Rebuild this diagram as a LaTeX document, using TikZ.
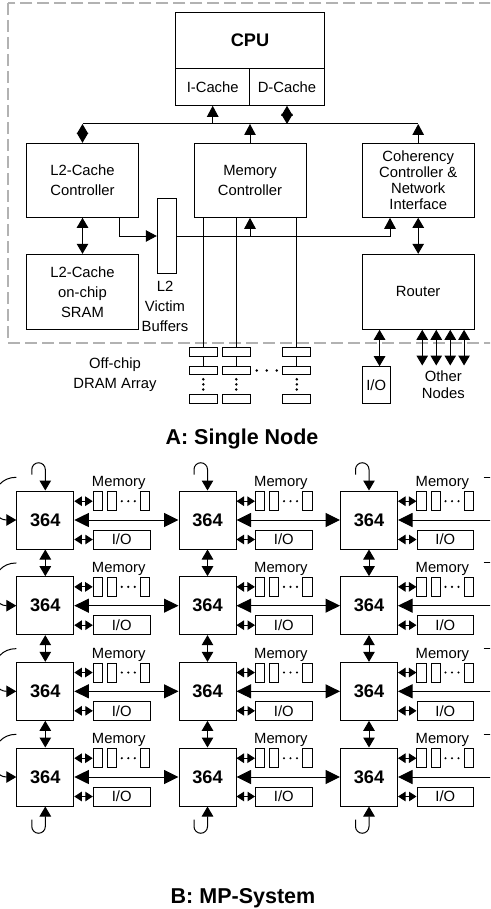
\documentclass[tikz,border=0pt]{standalone}
\usepackage{fontspec}
\setmainfont{Liberation Sans}
\usetikzlibrary{arrows.meta,calc}
\newcommand\myfs{\fontsize{14.8}{20}\selectfont}
\newcommand\myfsc{\fontsize{14.8}{16}\selectfont}
\newcommand\myfso{\fontsize{14.8}{16.7}\selectfont}
\newcommand\mybig{\fontsize{18.2}{22}\selectfont\bfseries}
\newcommand\mytitle{\fontsize{21.5}{24}\selectfont\bfseries}
\begin{document}
\begin{tikzpicture}[x=1pt,y=1pt,line width=1pt,
  box/.style={draw, inner sep=0pt, align=center, font=\myfs},
  dram/.style={draw, inner sep=0pt, minimum width=27.7pt, minimum height=8.7pt},
  pbox/.style={draw, inner sep=0pt, minimum width=57pt, minimum height=58pt, font=\mybig},
  mm/.style={draw, inner sep=0pt, minimum width=9.2pt, minimum height=19pt},
  iob/.style={draw, inner sep=0pt, minimum width=56.7pt, minimum height=19pt, font=\myfs},
  arr/.style={-{Triangle[length=11pt,width=11.5pt]}},
  darr/.style={{Triangle[length=10pt,width=11.5pt]}-{Triangle[length=10pt,width=11.5pt]}},
  sdarr/.style={{Triangle[length=7.5pt,width=9.5pt]}-{Triangle[length=7.5pt,width=9.5pt]}},
  bdarr/.style={{Triangle[length=14.5pt,width=14pt]}-{Triangle[length=14.5pt,width=14pt]}},
  barr/.style={-{Triangle[length=14.5pt,width=14pt]}},
  larr/.style={-{Triangle[length=10pt,width=11.5pt]}},
  dot/.style={fill, circle, inner sep=0pt, minimum size=2.8pt}
]
\useasboundingbox (0,0) rectangle (490,-909);
\clip (0,0) rectangle (490,-909);

% ---------- A: single node ----------
\draw[black!30, line width=1.6pt, dash pattern=on 12pt off 5pt] (8,-3) rectangle (505,-342.7);

\node[box, minimum width=148.6pt, minimum height=55.6pt, font=\mybig] (cpu) at (250,-40.5) {CPU};
\node[box, minimum width=74pt, minimum height=37pt] (icache) at (212.7,-86.8) {I-Cache};
\node[box, minimum width=74.6pt, minimum height=37pt] (dcache) at (287,-86.8) {D-Cache};

\node[box, minimum width=111.6pt, minimum height=74pt] (l2c) at (82.5,-180.3) {L2-Cache\\Controller};
\node[box, minimum width=112pt, minimum height=74pt] (mc) at (250,-180.3) {Memory\\Controller};
\node[box, minimum width=111.7pt, minimum height=74pt, font=\myfsc] (coh) at (418.2,-180.3) {Coherency\\Controller \&\\Network\\Interface};
\node[box, minimum width=111.6pt, minimum height=75pt] (sram) at (82.5,-291.8) {L2-Cache\\on-chip\\SRAM};
\node[box, minimum width=111.7pt, minimum height=75pt] (router) at (418.2,-291.8) {Router};
\node[box, minimum width=18.7pt, minimum height=74.6pt] (vb) at (166.65,-236) {};
\node[font=\myfs, align=center] (vbt) at (165,-306) {L2\\Victim\\Buffers};

\coordinate (busy) at (0,-124);
\draw (l2c.north |- busy) -- (coh.north |- busy);
\draw[arr] (icache.south |- busy) -- (icache.south);
\draw[darr] (dcache.south |- busy) -- (dcache.south);
\draw[darr] (l2c.north |- busy) -- (l2c.north);
\draw[arr] (mc.north) -- (mc.north |- busy);
\draw[arr] (coh.north) -- (coh.north |- busy);

\draw[darr] (l2c.south) -- (sram.north);
\draw[arr] ([xshift=36.8pt]l2c.south) |- (vb.west);
\draw[arr] (vb.east) -| ([xshift=-28.2pt]coh.south);
\draw[arr] (mc.south |- vb.east) -- (mc.south);
\draw[darr] (coh.south) -- (router.north);

\foreach \i/\x in {1/203.3,2/236.3,3/296.8} {
  \node[dram] (dra\i) at (\x,-352) {};
  \node[dram] (drb\i) at (\x,-370.5) {};
  \node[dram] (drc\i) at (\x,-398.8) {};
  \draw (mc.south -| dra\i.north) -- (dra\i.north);
  \draw (dra\i.south) -- (drb\i.north);
  \foreach \yy in {379.3,384.4,389.5} \node[dot] at (\x,-\yy) {};
}
\foreach \xx in {256.7,266.7,276.7} \node[dot] at (\xx,-370.5) {};
\node[font=\myfs, align=center] (offt) at (115,-375) {Off-chip\\DRAM Array};

\node[box, minimum width=27.7pt, minimum height=36.6pt] (io) at (376.2,-385) {I/O};
\draw[darr] ([xshift=17.7pt]router.south west) -- ([xshift=17.7pt]router.south west |- io.north);
\foreach \k/\dx in {1/60.4,2/74.4,3/88.4,4/102.2} {
  \coordinate (on\k) at ([xshift=\dx pt, yshift=-35.7pt]router.south west);
  \draw[darr] ([xshift=\dx pt]router.south west) -- (on\k);
}
\node[font=\myfso, align=center] (othert) at (443.3,-385) {Other\\Nodes};

\node[font=\mytitle, anchor=base] (ta) at (242,-444.5) {A: Single Node};

% ---------- B: MP-System ----------
\foreach \r/\cy in {1/520,2/605.67,3/691.33,4/777} {
  \foreach \c/\cx in {1/45.3,2/207.5,3/369} {
    \node[pbox] (n\r\c) at (\cx,-\cy) {364};
    \node[mm] (ma\r\c) at (\cx+52.5,-\cy+18.8) {};
    \node[mm] (mb\r\c) at (\cx+66.7,-\cy+18.8) {};
    \node[mm] (mc\r\c) at (\cx+100,-\cy+18.8) {};
    \foreach \dx in {76.5,83,89.5} \node[dot, minimum size=2.4pt] at (\cx+\dx,-\cy+18.8) {};
    \node[iob] (io\r\c) at (\cx+76.35,-\cy-19.5) {I/O};
    \node[font=\myfs, anchor=base] (ml\r\c) at (\cx+73.4,-\cy+33.3) {Memory};
    \draw[sdarr] (n\r\c.east |- ma\r\c.west) -- (ma\r\c.west);
    \draw[sdarr] (n\r\c.east |- io\r\c.west) -- (io\r\c.west);
  }
  \draw[bdarr] (n\r1.east) -- (n\r2.west);
  \draw[bdarr] (n\r2.east) -- (n\r3.west);
  \coordinate (re\r) at ($(n\r3.east)+(110,0)$);
  \draw[barr] (re\r) -- (n\r3.east);
  \draw[larr] ($(n\r1.west)+(0,42.7)$) .. controls ($(n\r1.west)+(-28.8,42.7)$) and ($(n\r1.west)+(-28.8,0)$) .. (n\r1.west);
  \coordinate (rt\r) at ($(n\r3.east)+(85.5,43)$);
  \draw (rt\r) -- ++(30,0);
}
\foreach \r/\s in {1/2,2/3,3/4}
  \foreach \c in {1,2,3}
    \draw[darr] (n\r\c.south) -- (n\s\c.north);
\foreach \c in {1,2,3} {
  \draw[larr] ($(n1\c.north)+(-13.5,16)$) -- ++(0,5) arc[start angle=180,end angle=0,radius=6.75pt] -- (n1\c.north);
  \draw[larr] ($(n4\c.south)+(-13.5,-13)$) -- ++(0,-7) arc[start angle=180,end angle=360,radius=6.75pt] -- (n4\c.south);
}

\node[font=\mytitle, anchor=base] (tb) at (243,-903) {B: MP-System};
\end{tikzpicture}
\end{document}
